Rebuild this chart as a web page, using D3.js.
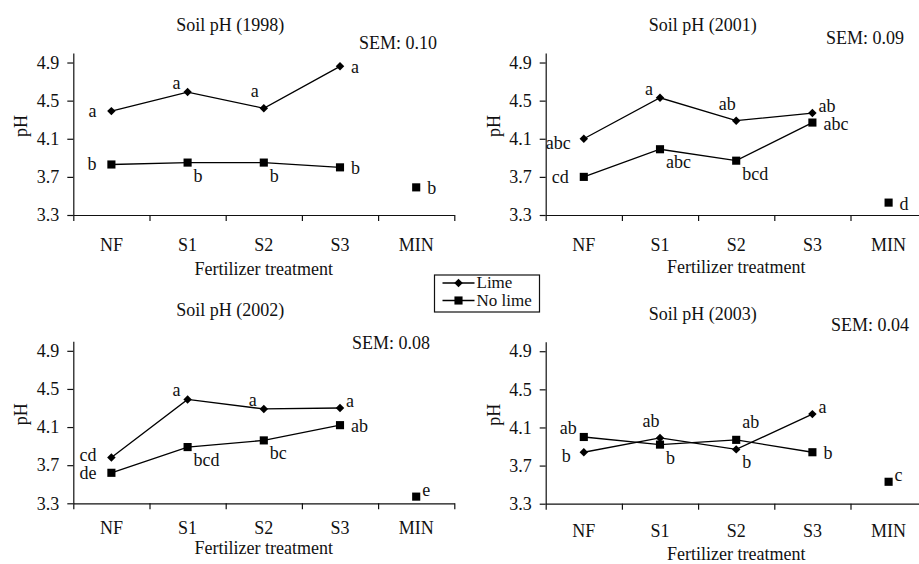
<!DOCTYPE html>
<html lang="en">
<head>
  <meta charset="UTF-8">
  <title>Soil pH</title>
  <script src="https://cdn.jsdelivr.net/npm/d3@7"></script>
  <style>
    body { margin: 0; background: #fff; }
    svg text { font-family: 'Liberation Serif', 'Times New Roman', serif; fill: #111; }
  </style>
</head>
<body>
<svg></svg>
<script>
  const width = 919, height = 564

  // data
  const categories = ['NF', 'S1', 'S2', 'S3', 'MIN']
  const years = ['1998', '2001', '2002', '2003']
  const sem = ['0.10', '0.09', '0.08', '0.04']
  const yTicks = [3.3, 3.7, 4.1, 4.5, 4.9]

  const limeVals = [
    [4.39, 4.59, 4.42, 4.86],
    [4.10, 4.53, 4.29, 4.37],
    [3.78, 4.39, 4.29, 4.30],
    [3.84, 3.99, 3.87, 4.24]
  ]
  const noLimeVals = [
    [3.83, 3.85, 3.85, 3.80],
    [3.70, 3.99, 3.87, 4.27],
    [3.62, 3.89, 3.96, 4.12],
    [4.00, 3.92, 3.97, 3.84]
  ]
  const minVals = [3.59, 3.43, 3.37, 3.53]

  const limeLetters = [
    ['a', 'a', 'a', 'a'],
    ['abc', 'a', 'ab', 'ab'],
    ['cd', 'a', 'a', 'a'],
    ['b', 'ab', 'b', 'a']
  ]
  const noLimeLetters = [
    ['b', 'b', 'b', 'b'],
    ['cd', 'abc', 'bcd', 'abc'],
    ['de', 'bcd', 'bc', 'ab'],
    ['ab', 'b', 'ab', 'b']
  ]
  const minLetters = ['b', 'd', 'e', 'c']

  // where each letter sits relative to its point
  const limeSpot = [
    ['l', 'al', 'a', 'r'],
    ['bl', 'al', 'a', 'ar'],
    ['ul', 'al', 'al', 'ar'],
    ['bl', 'a', 'br', 'ar']
  ]
  const noLimeSpot = [
    ['l', 'br', 'br', 'r'],
    ['l', 'br', 'br', 'r'],
    ['l', 'br', 'br', 'r'],
    ['al', 'br', 'aR', 'r']
  ]
  const minSpot = ['r', 'r', 'ar', 'ar']

  const spots = {
    l:  {anchor: 'end', dx: -15, dy: 6},
    ul: {anchor: 'end', dx: -15, dy: 3},
    bl: {anchor: 'end', dx: -13, dy: 10},
    r:  {anchor: 'start', dx: 11, dy: 7},
    al: {anchor: 'end', dx: -7, dy: -3},
    a:  {anchor: 'middle', dx: -9, dy: -11},
    ar: {anchor: 'start', dx: 6, dy: -1},
    aR: {anchor: 'start', dx: 6, dy: -12},
    br: {anchor: 'start', dx: 6, dy: 19}
  }

  const layout = [
    {x0: 73.3, base: 215, titleY: 31, semX: 437, semY: 49, labPad: 30, axPad: 60},
    {x0: 545.7, base: 215, titleY: 31, semX: 904, semY: 44, labPad: 30, axPad: 58},
    {x0: 73.3, base: 503.3, titleY: 316, semX: 430, semY: 349, labPad: 24, axPad: 51},
    {x0: 545.7, base: 503.7, titleY: 320, semX: 909, semY: 331, labPad: 27, axPad: 56}
  ]
  const plotW = 381, unit = 95.3
  const fs = 18

  const svg = d3.select('svg')
      .attr('width', width)
      .attr('height', height)
      .attr('viewBox', [0, 0, width, height])

  const diamond = d3.symbol(d3.symbolSquare, 36)
  const square = d3.symbol(d3.symbolSquare, 66)

  years.forEach((yr, i) => {
    const L = layout[i]
    const g = svg.append('g')

    const x = d3.scaleBand()
        .domain(categories)
        .range([L.x0, L.x0 + plotW])
    const xEdge = d3.scaleLinear()
        .domain([0, categories.length])
        .range([L.x0, L.x0 + plotW])
    const y = d3.scaleLinear()
        .domain([3.3, 5.0])
        .range([L.base, L.base - 1.7 * unit])

    // y axis
    const ya = g.append('g')
        .attr('transform', `translate(${L.x0},0)`)
        .call(d3.axisLeft(y).tickValues(yTicks).tickFormat(d3.format('.1f'))
          .tickSizeInner(6).tickSizeOuter(0).tickPadding(8))
    ya.attr('font-family', null).attr('font-size', null)
    ya.selectAll('text').style('font-size', fs + 'px')

    // x axis: boundary ticks
    g.append('g')
        .attr('transform', `translate(0,${L.base})`)
        .call(d3.axisBottom(xEdge).ticks(5).tickFormat('').tickSizeInner(6).tickSizeOuter(0))
    // x axis: category labels
    const xa = g.append('g')
        .attr('transform', `translate(0,${L.base})`)
        .call(d3.axisBottom(x).tickSize(0).tickPadding(L.labPad - 6.5))
    xa.select('.domain').remove()
    xa.attr('font-family', null).attr('font-size', null)
    xa.selectAll('text').style('font-size', fs + 'px')

    g.selectAll('.domain, .tick line').attr('stroke', '#111').attr('stroke-width', 1.2)

    // titles
    g.append('text')
        .attr('x', L.x0 + 157).attr('y', L.titleY)
        .attr('text-anchor', 'middle').style('font-size', fs + 'px')
        .text(`Soil pH (${yr})`)
    g.append('text')
        .attr('x', L.semX).attr('y', L.semY)
        .attr('text-anchor', 'end').style('font-size', fs + 'px')
        .text(`SEM: ${sem[i]}`)
    g.append('text')
        .attr('x', L.x0 + plotW / 2).attr('y', L.base + L.axPad)
        .attr('text-anchor', 'middle').style('font-size', fs + 'px')
        .text('Fertilizer treatment')
    g.append('text')
        .attr('transform', `translate(${L.x0 - 46},${L.base - 89}) rotate(-90)`)
        .attr('text-anchor', 'middle').style('font-size', fs + 'px')
        .text('pH')

    const cx = c => x(c) + x.bandwidth() / 2
    const line = d3.line()
        .x((d, j) => cx(categories[j]))
        .y(d => y(d))

    const series = [
      {vals: limeVals[i], letters: limeLetters[i], spot: limeSpot[i], sym: diamond, rot: 45},
      {vals: noLimeVals[i], letters: noLimeLetters[i], spot: noLimeSpot[i], sym: square, rot: 0}
    ]

    series.forEach(s => {
      g.append('path')
          .attr('fill', 'none')
          .attr('stroke', '#000')
          .attr('stroke-width', 1.3)
          .attr('d', line(s.vals))

      g.selectAll(null)
        .data(s.vals)
        .join('path')
          .attr('transform', (d, j) => `translate(${cx(categories[j])},${y(d)}) rotate(${s.rot})`)
          .attr('d', s.sym())
          .attr('fill', '#000')

      g.selectAll(null)
        .data(s.vals)
        .join('text')
          .attr('x', (d, j) => cx(categories[j]) + spots[s.spot[j]].dx)
          .attr('y', (d, j) => y(d) + spots[s.spot[j]].dy)
          .attr('text-anchor', (d, j) => spots[s.spot[j]].anchor)
          .style('font-size', fs + 'px')
          .text((d, j) => s.letters[j])
    })

    // mineral fertilizer, no lime only
    g.append('path')
        .attr('transform', `translate(${cx('MIN')},${y(minVals[i])})`)
        .attr('d', square())
        .attr('fill', '#000')
    const ms = spots[minSpot[i]]
    g.append('text')
        .attr('x', cx('MIN') + ms.dx)
        .attr('y', y(minVals[i]) + ms.dy)
        .attr('text-anchor', ms.anchor)
        .style('font-size', fs + 'px')
        .text(minLetters[i])
  })

  // legend
  const leg = svg.append('g').attr('transform', 'translate(434.5,275)')
  leg.append('rect')
      .attr('width', 105).attr('height', 37)
      .attr('fill', '#fff').attr('stroke', '#111').attr('stroke-width', 1.2)
  const legItems = [
    {name: 'Lime', sym: diamond, rot: 45},
    {name: 'No lime', sym: square, rot: 0}
  ]
  legItems.forEach((it, k) => {
    const yy = 8 + k * 17.5
    leg.append('line')
        .attr('x1', 8).attr('x2', 40).attr('y1', yy).attr('y2', yy)
        .attr('stroke', '#000').attr('stroke-width', 1.3)
    leg.append('path')
        .attr('transform', `translate(24,${yy}) rotate(${it.rot})`)
        .attr('d', it.sym())
        .attr('fill', '#000')
    leg.append('text')
        .attr('x', 42).attr('y', yy + 5)
        .style('font-size', '17px')
        .text(it.name)
  })
</script>
</body>
</html>
